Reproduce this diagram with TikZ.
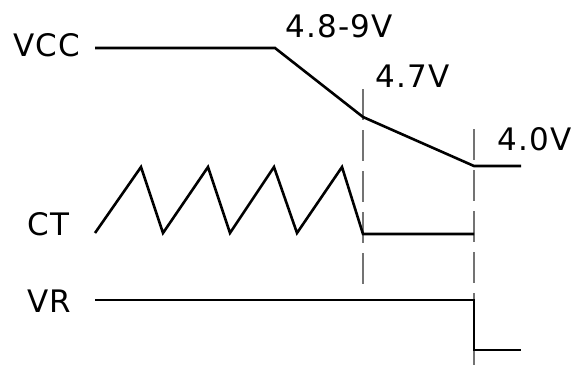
\documentclass[tikz,border=0pt]{standalone}
\usepackage{fontspec}
\setmainfont[LetterSpace=4]{DejaVu Sans}
\begin{document}
\begin{tikzpicture}[x=1pt,y=-1pt,
  sig/.style={line width=2.6pt,line join=miter,black},
  guide/.style={line width=1.6pt,color=black!55,dash pattern=on 31pt off 10pt},
  lbl/.style={anchor=west,inner sep=0pt,font=\fontsize{31}{31}\selectfont,text=black}]
\useasboundingbox (0,0) rectangle (573,365);
% guides
\coordinate (g1t) at (363,89);
\coordinate (g1b) at (363,286);
\coordinate (g2t) at (474,129);
\coordinate (g2b) at (474,365);
\draw[guide] (g1t) -- (g1b);
\draw[guide] (g2t) -- (g2b);
% VCC
\coordinate (v0) at (95,48);
\coordinate (v1) at (275,48);
\coordinate (v2) at (363,117);
\coordinate (v3) at (474,166);
\coordinate (v4) at (521,166);
\draw[sig] (v0) -- (v1) -- (v2) -- (v3) -- (v4);
% CT
\draw[sig] (95,233) -- (141,167) -- (163,233) -- (208,167) -- (230,233) -- (274,167) -- (297,233) -- (342,167) -- (363,234) -- (474,234);
% VR
\coordinate (r0) at (95,300);
\coordinate (r1) at (474,300);
\coordinate (r2) at (474,350);
\coordinate (r3) at (521,350);
\draw[sig] (r0) -- (r1) -- (r2) -- (r3);
% labels
\node[lbl] (lvcc) at (13,45) {VCC};
\node[lbl] (l48) at (285,26) {4.8-9V};
\node[lbl] (l47) at (375,76) {4.7V};
\node[lbl] (l40) at (497,139) {4.0V};
\node[lbl] (lct) at (27,224) {CT};
\node[lbl] (lvr) at (27,301) {VR};
\end{tikzpicture}
\end{document}
